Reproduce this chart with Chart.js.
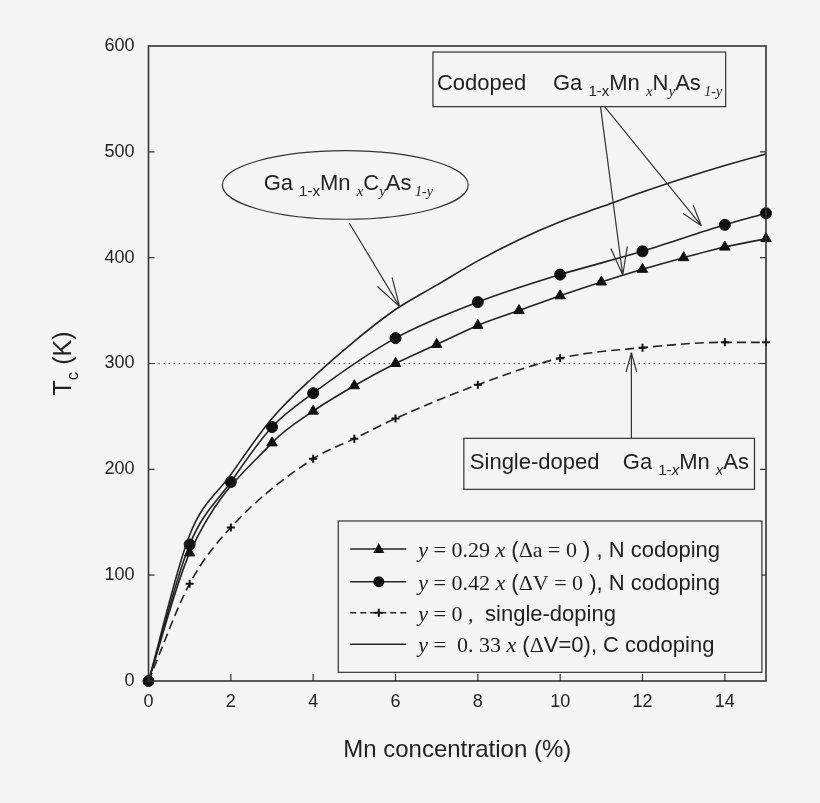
<!DOCTYPE html>
<html>
<head>
<meta charset="utf-8">
<title>Tc vs Mn concentration</title>
<script src="https://cdn.jsdelivr.net/npm/chart.js"></script>
<style>
  body { margin: 0; background: #f4f4f4; }
  canvas { display: block; }
</style>
<script>
// Mn concentration (%) where each curve has a point
const xTri   = [0, 1, 3, 4, 5, 6, 7, 8, 9, 10, 11, 12, 13, 14, 15];
const xDot   = [0, 1, 2, 3, 4, 6, 8, 10, 12, 14, 15];
const xCross = [0, 1, 2, 4, 5, 6, 8, 10, 12, 14, 15];
const xC     = [0, 1, 2, 3, 4, 5, 6, 7, 8, 9, 10, 11, 12, 13, 14, 15];

// Tc (K)
const tcN029   = [0, 121, 225, 255, 279, 300, 318, 336, 350, 364, 377, 389, 400, 410, 418];
const tcN042   = [0, 129, 188, 240, 272, 324, 358, 384, 406, 431, 442];
const tcSingle = [0, 92, 145, 210, 229, 248, 280, 305, 315, 320, 320];
const tcC033   = [0, 138, 195, 248, 287, 321, 351, 374, 397, 417, 434, 448, 462, 475, 487, 498];

const xTicks = [0, 2, 4, 6, 8, 10, 12, 14];
const yTicks = [0, 100, 200, 300, 400, 500, 600];

const SANS = '"Liberation Sans", Arial, sans-serif';
const SERIF = '"Liberation Serif", "Times New Roman", serif';
const INK = '#222';

function pts(xs, ys) {
    return xs.map((v, i) => ({x: v, y: ys[i]}));
}

// draw a run of text pieces with their own fonts / baseline shifts
function rich(ctx, segs, x, y, center) {
    let w = 0;
    segs.forEach(s => { ctx.font = s.f; w += ctx.measureText(s.t).width; });
    if (center) x -= w / 2;
    segs.forEach(s => {
        ctx.font = s.f;
        ctx.fillText(s.t, x, y + (s.dy || 0));
        x += ctx.measureText(s.t).width;
    });
}

function arrow(ctx, x0, y0, x1, y1, len, ang) {
    const th = Math.atan2(y1 - y0, x1 - x0);
    ctx.beginPath();
    ctx.moveTo(x0, y0);
    ctx.lineTo(x1, y1);
    [-1, 1].forEach(s => {
        ctx.moveTo(x1, y1);
        ctx.lineTo(x1 - len * Math.cos(th + s * ang), y1 - len * Math.sin(th + s * ang));
    });
    ctx.stroke();
}

function marker(ctx, style, x, y) {
    ctx.save();
    ctx.fillStyle = '#111';
    ctx.strokeStyle = '#111';
    ctx.beginPath();
    if (style == 'triangle') {
        ctx.moveTo(x, y - 6); ctx.lineTo(x + 5.5, y + 4); ctx.lineTo(x - 5.5, y + 4); ctx.closePath(); ctx.fill();
    } else if (style == 'circle') {
        ctx.arc(x, y, 5.5, 0, Math.PI * 2); ctx.fill();
    } else {
        ctx.lineWidth = 2;
        ctx.moveTo(x - 4, y); ctx.lineTo(x + 4, y); ctx.moveTo(x, y - 4); ctx.lineTo(x, y + 4); ctx.stroke();
    }
    ctx.restore();
}

const deco = {
    id: 'deco',
    beforeDatasetsDraw(chart) {
        const {ctx, chartArea: a, scales: {y}} = chart;
        const yy = y.getPixelForValue(300);
        ctx.save();
        ctx.strokeStyle = '#555';
        ctx.lineWidth = 1;
        ctx.setLineDash([1.5, 3.5]);
        ctx.beginPath(); ctx.moveTo(a.left, yy); ctx.lineTo(a.right, yy); ctx.stroke();
        ctx.restore();
    },
    afterDraw(chart) {
        const {ctx, chartArea: a, scales: {x, y}} = chart;
        const P = (vx, vy) => [x.getPixelForValue(vx), y.getPixelForValue(vy)];
        ctx.save();

        // frame + inward ticks
        ctx.strokeStyle = '#333';
        ctx.lineWidth = 1.6;
        ctx.strokeRect(a.left, a.top, a.right - a.left, a.bottom - a.top);
        ctx.lineWidth = 1.2;
        ctx.beginPath();
        yTicks.slice(1, -1).forEach(v => {
            const yy = y.getPixelForValue(v);
            ctx.moveTo(a.left, yy); ctx.lineTo(a.left + 6, yy);
            ctx.moveTo(a.right, yy); ctx.lineTo(a.right - 6, yy);
        });
        xTicks.slice(1).forEach(v => {
            const xx = x.getPixelForValue(v);
            ctx.moveTo(xx, a.bottom); ctx.lineTo(xx, a.bottom - 7);
        });
        ctx.stroke();

        // axis titles
        ctx.fillStyle = INK;
        ctx.textBaseline = 'alphabetic';
        ctx.textAlign = 'left';
        rich(ctx, [{t: 'Mn concentration (%)', f: '24px ' + SANS}], (a.left + a.right) / 2, 757, true);
        ctx.save();
        ctx.translate(71, (a.top + a.bottom) / 2);
        ctx.rotate(-Math.PI / 2);
        rich(ctx, [
            {t: 'T', f: '25px ' + SANS},
            {t: 'c', f: '17px ' + SANS, dy: 7},
            {t: ' (K)', f: '25px ' + SANS}
        ], 0, 0, true);
        ctx.restore();

        ctx.strokeStyle = '#333';
        ctx.lineWidth = 1.2;
        const big = '22px ' + SANS, sub = '15px ' + SANS;
        const subI = 'italic 15px ' + SERIF;

        // codoped box
        let [l, t] = P(6.91, 594.3), [r, b] = P(14.02, 542.7);
        ctx.strokeRect(l, t, r - l, b - t);
        rich(ctx, [{t: 'Codoped', f: big}], l + 4, t + 38);
        rich(ctx, [
            {t: 'Ga ', f: big}, {t: '1-x', f: sub, dy: 6}, {t: 'Mn ', f: big},
            {t: 'x', f: subI, dy: 6}, {t: 'N', f: big}, {t: 'y', f: subI, dy: 6},
            {t: 'As', f: big}, {t: ' 1-y', f: 'italic 14px ' + SERIF, dy: 6}
        ], l + 120, t + 38);
        let p0 = P(10.98, 542.7), p1 = P(11.52, 383.6);
        arrow(ctx, p0[0], p0[1], p1[0], p1[1], 29, 0.29);
        p0 = P(11.08, 542.7); p1 = P(13.43, 430.2);
        arrow(ctx, p0[0], p0[1], p1[0], p1[1], 22, 0.3);

        // ellipse label for C codoping
        const [cx, cy] = P(4.78, 468.7);
        const rx = x.getPixelForValue(4.78 + 2.985) - cx;
        const ry = cy - y.getPixelForValue(468.7 + 32.4);
        ctx.beginPath(); ctx.ellipse(cx, cy, rx, ry, 0, 0, Math.PI * 2); ctx.stroke();
        rich(ctx, [
            {t: 'Ga ', f: big}, {t: '1-x', f: sub, dy: 6}, {t: 'Mn ', f: big},
            {t: 'x', f: subI, dy: 6}, {t: 'C', f: big}, {t: 'y', f: subI, dy: 6},
            {t: 'As', f: big}, {t: ' 1-y', f: 'italic 14px ' + SERIF, dy: 6}
        ], cx + 3, cy + 5, true);
        p0 = P(4.88, 432.5); p1 = P(6.10, 353.7);
        arrow(ctx, p0[0], p0[1], p1[0], p1[1], 30, 0.29);

        // single-doped box
        [l, t] = P(7.66, 229.3); [r, b] = P(14.72, 181.1);
        ctx.strokeRect(l, t, r - l, b - t);
        rich(ctx, [{t: 'Single-doped', f: big}], l + 6, t + 31);
        rich(ctx, [
            {t: 'Ga ', f: big}, {t: '1-', f: sub, dy: 6}, {t: 'x', f: 'italic 15px ' + SANS, dy: 6},
            {t: 'Mn ', f: big}, {t: 'x', f: 'italic 15px ' + SANS, dy: 6}, {t: 'As', f: big}
        ], l + 159, t + 31);
        p0 = P(11.73, 229.3); p1 = P(11.73, 310.2);
        arrow(ctx, p0[0], p0[1], p1[0], p1[1], 20, 0.27);

        // legend
        [l, t] = P(4.61, 151.2); [r, b] = P(14.9, 8.2);
        ctx.fillStyle = '#f4f4f4';
        ctx.fillRect(l, t, r - l, b - t);
        ctx.strokeRect(l, t, r - l, b - t);
        ctx.fillStyle = INK;
        const it = 'italic 22px ' + SERIF, rm = '22px ' + SERIF;
        const rows = [
            {off: 28, mk: 'triangle', dash: [], segs: [
                {t: 'y', f: it}, {t: ' = 0.29 ', f: rm}, {t: 'x', f: it}, {t: ' (', f: big},
                {t: '\u0394a = 0', f: rm}, {t: ' ) , N codoping', f: big}]},
            {off: 60.7, mk: 'circle', dash: [], segs: [
                {t: 'y', f: it}, {t: ' = 0.42 ', f: rm}, {t: 'x', f: it}, {t: ' (', f: big},
                {t: '\u0394V = 0', f: rm}, {t: ' ), N codoping', f: big}]},
            {off: 91.7, mk: 'cross', dash: [6, 4], segs: [
                {t: 'y', f: it}, {t: ' = 0 , ', f: rm}, {t: ' single-doping', f: big}]},
            {off: 123.3, mk: null, dash: [], segs: [
                {t: 'y', f: it}, {t: ' =  0. 33 ', f: rm}, {t: 'x', f: it}, {t: ' (', f: big},
                {t: '\u0394', f: rm}, {t: 'V=0), C codoping', f: big}]}
        ];
        rows.forEach(row => {
            const yy = t + row.off;
            ctx.save();
            ctx.strokeStyle = INK;
            ctx.lineWidth = 1.6;
            ctx.setLineDash(row.dash);
            ctx.beginPath(); ctx.moveTo(l + 12, yy); ctx.lineTo(l + 68, yy); ctx.stroke();
            ctx.restore();
            if (row.mk) marker(ctx, row.mk, l + 40.5, yy);
            rich(ctx, row.segs, l + 80, yy + 8);
        });

        ctx.restore();
    }
};

function dibujar() {
    const ctx = document.getElementById('grafico').getContext('2d');
    const common = {borderColor: INK, borderWidth: 1.6, cubicInterpolationMode: 'monotone', clip: false,
                    pointBackgroundColor: '#111', pointBorderColor: '#111'};
    new Chart(ctx, {
        type: 'line',
        data: {
            datasets: [
                Object.assign({label: 'y = 0.33 x (\u0394V=0), C codoping', data: pts(xC, tcC033),
                               pointRadius: 0}, common),
                Object.assign({label: 'y = 0, single-doping', data: pts(xCross, tcSingle),
                               borderDash: [9, 5], pointStyle: 'cross', pointRadius: 4,
                               pointBorderWidth: 2}, common),
                Object.assign({label: 'y = 0.29 x (\u0394a = 0), N codoping', data: pts(xTri, tcN029),
                               pointStyle: 'triangle', pointRadius: 6, pointBorderWidth: 1}, common),
                Object.assign({label: 'y = 0.42 x (\u0394V = 0), N codoping', data: pts(xDot, tcN042),
                               pointStyle: 'circle', pointRadius: 5.5, pointBorderWidth: 1}, common)
            ]
        },
        options: {
            responsive: false,
            animation: false,
            layout: {padding: {top: 46, right: 54, left: 0, bottom: 0}},
            plugins: {legend: {display: false}, tooltip: {enabled: false}},
            scales: {
                x: {
                    type: 'linear', min: 0, max: 15,
                    afterBuildTicks: s => { s.ticks = xTicks.map(v => ({value: v})); },
                    afterFit: s => { s.height = 122; },
                    grid: {display: false, drawTicks: false},
                    border: {display: false},
                    ticks: {padding: 10, color: INK, font: {family: SANS, size: 18}}
                },
                y: {
                    min: 0, max: 600,
                    afterBuildTicks: s => { s.ticks = yTicks.map(v => ({value: v})); },
                    afterFit: s => { s.width = 148.5; },
                    grid: {display: false, drawTicks: false},
                    border: {display: false},
                    ticks: {padding: 14, color: INK, font: {family: SANS, size: 18}}
                }
            }
        },
        plugins: [deco]
    });
}
onload = dibujar;
</script>
</head>
<body>
    <canvas id="grafico" width="820" height="803"></canvas>
</body>
</html>
